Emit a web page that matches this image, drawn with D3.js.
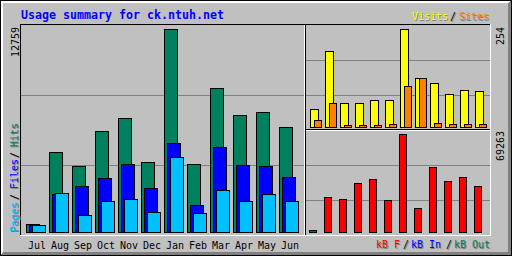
<!DOCTYPE html>
<html><head><meta charset="utf-8">
<script src="https://cdn.jsdelivr.net/npm/d3@7"></script>
<style>body{margin:0;background:#fff}svg{display:block}text{font-family:"DejaVu Sans Mono",monospace;}</style>
</head><body><svg id="c" width="512" height="256"></svg>
<script>
const months = ["Jul","Aug","Sep","Oct","Nov","Dec","Jan","Feb","Mar","Apr","May","Jun"];
const hits   = [503,5009,4129,6329,7146,4381,12759,4255,9032,7335,7523,6581];
const files  = [440,2388,2872,3375,4255,2747,5575,1678,5323,4192,4129,3438];
const pages  = [409,2432,1050,1930,2055,1238,4695,1175,2621,1930,2369,1930];
const visits = [47,197,62,62,70,70,254,127,114,86,96,93];
const sites  = [18,62,5,5,5,8,106,127,10,8,8,8];
const kbytes = [1414,24738,23324,34633,37460,22617,69263,16963,45941,36046,38873,32512];
const title = "Usage summary for ck.ntuh.net";

const C = {grey:"#C0C0C0", dk:"#808080", white:"#FFFFFF", black:"#000000",
  hits:"#00805C", files:"#0000FF", pages:"#00C0FF", visits:"#FFFF00", sites:"#FF8000", kb:"#FF0000", title:"#0000FF"};

const svg = d3.select("#c");
function px(x1,y1,x2,y2,col){ // inclusive pixel rect
  svg.append("rect").attr("x",Math.min(x1,x2)).attr("y",Math.min(y1,y2))
    .attr("width",Math.abs(x2-x1)+1).attr("height",Math.abs(y2-y1)+1)
    .attr("fill",col).attr("shape-rendering","crispEdges");
}
function bar(x1,x2,top,bottom,col){
  px(x1,top,x2,bottom,C.black);
  if (x2-x1>1 && bottom-top>1) px(x1+1,top+1,x2-1,bottom-1,col);
}
function txt(s,x,y,col,opts={}){
  const t = svg.append("text").attr("x",x).attr("y",y).attr("fill",col)
    .attr("font-size",opts.size||10).text(s);
  if(opts.bold) t.attr("font-weight","bold");
  if(opts.len) t.attr("textLength",opts.len).attr("lengthAdjust","spacingAndGlyphs");
  return t;
}
function stxt(s,x,y,col){ txt(s,x+1,y+1,C.dk); txt(s,x,y,col); }
function up(s,x,y,col,shadow){
  if(shadow) svg.append("text").attr("transform",`translate(${x+1},${y+1}) rotate(-90)`).attr("fill",C.dk).attr("font-size",10).text(s);
  svg.append("text").attr("transform",`translate(${x},${y}) rotate(-90)`).attr("fill",col).attr("font-size",10).text(s);
}

// background + border
px(0,0,511,255,C.grey);
px(0,0,511,0,C.black); px(0,0,0,255,C.black);
for (let i=1;i<=2;i++){ px(i,i,510-i,i,C.white); px(i,i,i,254-i,C.white); }
for (let i=0;i<3;i++){ px(1+i,254-i,511,254-i,C.dk); px(510-i,1+i,510-i,255,C.dk); }
px(0,255,511,255,C.black); px(511,0,511,255,C.black);

// panel frame
px(20,24,490,24,C.black); px(20,24,20,235,C.black);
px(20,235,490,235,C.white); px(490,24,490,235,C.white);
px(304,25,304,234,C.white); px(305,25,305,234,C.black);
px(306,129,489,129,C.black); px(306,130,489,130,C.white);

// grid lines
px(21,95,303,95,C.dk); px(21,165,303,165,C.dk);
px(306,60,489,60,C.dk); px(306,95,489,95,C.dk);
px(306,165,489,165,C.dk); px(306,200,489,200,C.dk);

// scales
const xMain = d3.scaleBand().domain(months).range([26, 26+23*12]);
const yMain = d3.scaleLinear().domain([0, d3.max(hits)]).range([232, 29]);
const xR = d3.scaleBand().domain(months).range([310, 310+15*12]);
const yV = d3.scaleLinear().domain([0, d3.max(visits)]).range([127, 29]);
const yK = d3.scaleLinear().domain([0, d3.max(kbytes)]).range([232, 134]);

months.forEach((m,i)=>{
  const x = Math.round(xMain(m));
  bar(x, x+13, Math.round(yMain(hits[i])), 232, C.hits);
  bar(x+3, x+16, Math.round(yMain(files[i])), 232, C.files);
  bar(x+6, x+19, Math.round(yMain(pages[i])), 232, C.pages);
  const xr = Math.round(xR(m));
  bar(xr, xr+8, Math.round(yV(visits[i])), 127, C.visits);
  bar(xr+4, xr+11, Math.round(yV(sites[i])), 127, C.sites);
  bar(xr-1, xr+6, Math.round(yK(kbytes[i])), 232, C.kb);
  txt(m, x+2, 249, C.black);
});

// title
txt(title, 21, 19, C.title, {size:12, bold:true, len:203});

// legends
stxt("Visits",412,20,C.visits); stxt("/",450,20,C.black); stxt("Sites",459,20,C.sites);
stxt("kB F",376,248,C.kb); stxt("/",403,248,C.black); stxt("kB In",411,248,C.files);
stxt("/",446,248,C.black); stxt("kB Out",454,248,C.hits);

up("Pages",18,232,C.pages,true); up("/",18,200,C.black,true); up("Files",18,189,C.files,true);
up("/",18,158,C.black,true); up("Hits",18,147,C.hits,true);

// max labels
up(String(d3.max(hits)),19,57,C.black,false);
up(String(d3.max(visits)),504,45,C.black,false);
up(String(d3.max(kbytes)),504,161,C.black,false);
</script></body></html>
